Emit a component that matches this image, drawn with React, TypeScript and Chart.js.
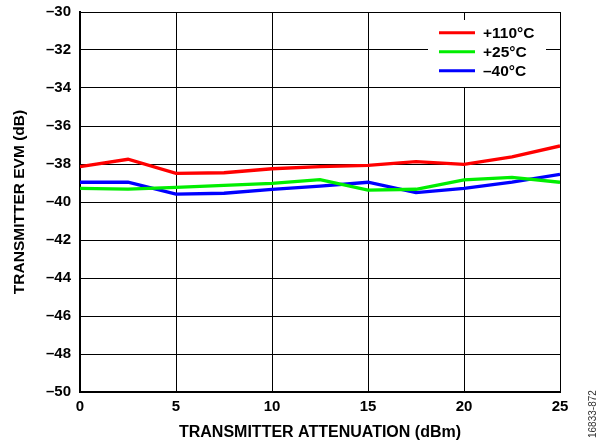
import React, { useEffect, useRef } from "react";
import { Chart, registerables } from "chart.js";

Chart.register(...registerables);

const xValues = [0, 2.5, 5, 7.5, 10, 12.5, 15, 17.5, 20, 22.5, 25];
const seriesNames = ["+110°C", "+25°C", "–40°C"];
const seriesColors = ["#ff0000", "#00ee00", "#0000ff"];
const hot = [-38.14, -37.75, -38.49, -38.46, -38.25, -38.14, -38.07, -37.88, -38.02, -37.62, -37.05];
const room = [-39.28, -39.32, -39.23, -39.12, -39.02, -38.82, -39.37, -39.33, -38.84, -38.7, -38.96];
const cold = [-38.96, -38.96, -39.59, -39.54, -39.33, -39.16, -38.96, -39.51, -39.28, -38.96, -38.54];
const xTitle = "TRANSMITTER ATTENUATION (dBm)";
const yTitle = "TRANSMITTER EVM (dB)";
const noteText = "16833-872";

const FONT = "'Liberation Sans', Arial, sans-serif";

export default function App() {
  const ref = useRef<HTMLCanvasElement | null>(null);
  useEffect(() => {
    document.body.style.margin = "0";
    const ctx = ref.current!;
    const allSeries = [hot, room, cold];
    const overlay = {
      id: "overlay",
      afterDatasetsDraw(chart: any) {
        const c = chart.ctx;
        const area = chart.chartArea;
        const bx = area.right - 132;
        const by = area.top + 8;
        const bw = 118;
        const bh = 67;
        c.save();
        c.fillStyle = "#ffffff";
        c.fillRect(bx, by, bw, bh);
        c.font = `bold 15.5px ${FONT}`;
        c.textBaseline = "middle";
        c.textAlign = "left";
        seriesNames.forEach((n, i) => {
          const y = by + 12.7 + i * 19;
          c.strokeStyle = seriesColors[i];
          c.lineWidth = 3;
          c.beginPath();
          c.moveTo(bx + 11, y);
          c.lineTo(bx + 47, y);
          c.stroke();
          c.fillStyle = "#000";
          c.fillText(n, bx + 55, y + 1);
        });
        c.restore();
        c.save();
        c.font = `10px ${FONT}`;
        c.fillStyle = "#333";
        c.translate(593, 438);
        c.rotate(-Math.PI / 2);
        c.textAlign = "left";
        c.textBaseline = "middle";
        c.fillText(noteText, 0, 0);
        c.restore();
      },
    };
    const chart = new Chart(ctx, {
      type: "line",
      data: {
        datasets: allSeries.map((s, i) => ({
          label: seriesNames[i],
          data: s.map((v, j) => ({ x: xValues[j], y: v })),
          borderColor: seriesColors[i],
          backgroundColor: seriesColors[i],
          borderWidth: 3.3,
          pointRadius: 0,
          tension: 0,
        })),
      },
      options: {
        animation: false,
        responsive: false,
        maintainAspectRatio: false,
        layout: { padding: { top: 12, right: 40, left: 0, bottom: 0 } },
        plugins: { legend: { display: false }, tooltip: { enabled: false } },
        scales: {
          x: {
            type: "linear",
            min: 0,
            max: 25,
            afterFit: (s: any) => {
              s.height = 50;
              s.paddingLeft = 0;
              s.paddingRight = 0;
            },
            ticks: {
              stepSize: 5,
              color: "#000",
              font: { family: FONT, size: 15, weight: "bold" },
              padding: 6,
              maxRotation: 0,
            },
            grid: { color: "#000", lineWidth: 1, drawTicks: false },
            border: { color: "#000", width: 2 },
            title: {
              display: true,
              text: xTitle,
              color: "#000",
              font: { family: FONT, size: 16, weight: "bold" },
              padding: { top: 0, bottom: 0 },
            },
          },
          y: {
            min: -50,
            max: -30,
            afterFit: (s: any) => {
              s.width = 80;
              s.paddingTop = 0;
              s.paddingBottom = 0;
            },
            ticks: {
              stepSize: 2,
              color: "#000",
              font: { family: FONT, size: 15, weight: "bold" },
              padding: 9,
              callback: (v: any) => String(v).replace("-", "–"),
            },
            grid: { color: "#000", lineWidth: 1, drawTicks: false },
            border: { color: "#000", width: 2 },
            title: {
              display: true,
              text: yTitle,
              color: "#000",
              font: { family: FONT, size: 15.5, weight: "bold" },
              padding: { top: 10, bottom: 0 },
            },
          },
        },
      },
      plugins: [overlay],
    });
    return () => chart.destroy();
  }, []);
  return (
    <div style={{ position: "absolute", left: 0, top: 0, width: 600, height: 442, background: "#fff" }}>
      <canvas ref={ref} width={600} height={442} />
    </div>
  );
}
